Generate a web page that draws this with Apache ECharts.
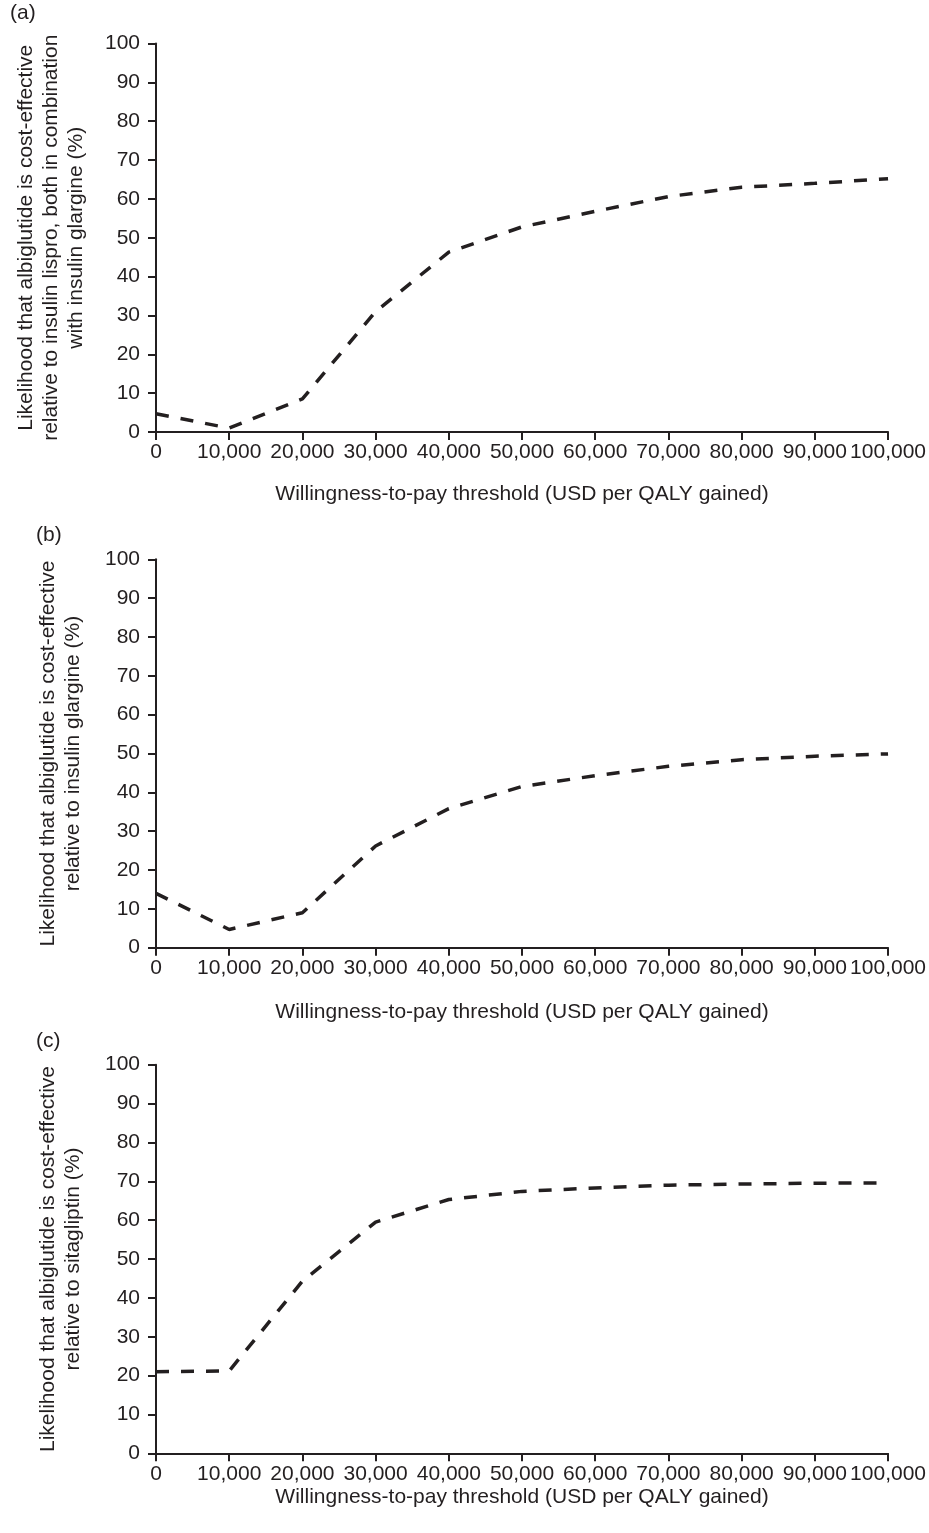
<!DOCTYPE html>
<html>
<head>
<meta charset="utf-8">
<script src="https://cdn.jsdelivr.net/npm/echarts@6/dist/echarts.min.js"></script>
<style>
html,body{margin:0;padding:0;background:#fff;}
#chart{width:929px;height:1533px;}
</style>
</head>
<body>
<div id="chart"></div>
<script>
// Willingness-to-pay thresholds (USD per QALY gained)
var thresholds = [0, 10000, 20000, 30000, 40000, 50000, 60000, 70000, 80000, 90000, 100000];
// Likelihood (%) that albiglutide is cost-effective
var seriesA = [4.7, 1.0, 8.5, 31.0, 46.3, 52.8, 56.8, 60.6, 63.0, 64.0, 65.2];
var seriesB = [14.0, 4.7, 9.0, 26.2, 35.8, 41.5, 44.3, 46.7, 48.4, 49.3, 49.9];
var seriesC = [21.0, 21.2, 44.3, 59.5, 65.3, 67.4, 68.3, 69.0, 69.3, 69.5, 69.6];
var panelLabels = ['(a)', '(b)', '(c)'];
var yNames = [
  'Likelihood that albiglutide is cost-effective\nrelative to insulin lispro, both in combination\nwith insulin glargine (%)',
  'Likelihood that albiglutide is cost-effective\nrelative to insulin glargine (%)',
  'Likelihood that albiglutide is cost-effective\nrelative to sitagliptin (%)'
];
var xName = 'Willingness-to-pay threshold (USD per QALY gained)';
var yTicks = [0, 10, 20, 30, 40, 50, 60, 70, 80, 90, 100];

var ink = '#231f20';
var font = 'Liberation Sans, Arial, Helvetica, sans-serif';
var grids = [
  {left: 156, top: 43.5, width: 733, height: 388.5},
  {left: 156, top: 559.3, width: 733, height: 388.4},
  {left: 156, top: 1064.7, width: 733, height: 388.6}
];
var xNameGaps = [52, 54, 33];
var yNameGaps = [67, 70, 70];
var allData = [seriesA, seriesB, seriesC];

var xAxes = [], yAxes = [], series = [], graphics = [];
for (var i = 0; i < 3; i++) {
  xAxes.push({
    type: 'value', gridIndex: i, min: 0, max: 100000, interval: 10000,
    name: xName, nameLocation: 'middle', nameGap: xNameGaps[i],
    nameTextStyle: {color: ink, fontSize: 21, fontFamily: font},
    axisLine: {show: true, lineStyle: {color: ink, width: 2}},
    axisTick: {show: true, length: 8, lineStyle: {color: ink, width: 2}},
    axisLabel: {color: ink, fontSize: 21, fontFamily: font, margin: 10,
      showMinLabel: true, showMaxLabel: true,
      formatter: function (v) { return v === 0 ? '0' : v.toLocaleString('en-US'); }},
    splitLine: {show: false}
  });
  yAxes.push({
    type: 'value', gridIndex: i, min: 0, max: 100, interval: 10,
    name: yNames[i], nameLocation: 'middle', nameGap: yNameGaps[i], nameRotate: 90,
    nameTextStyle: {color: ink, fontSize: 21, fontFamily: font, lineHeight: 25, align: 'center'},
    axisLine: {show: true, lineStyle: {color: ink, width: 2}},
    axisTick: {show: true, length: 8, lineStyle: {color: ink, width: 2}},
    axisLabel: {color: ink, fontSize: 21, fontFamily: font, margin: 16},
    splitLine: {show: false}
  });
  series.push({
    type: 'line', xAxisIndex: i, yAxisIndex: i,
    data: thresholds.map(function (t, k) { return [t, allData[i][k]]; }),
    showSymbol: false, symbol: 'none', smooth: false,
    lineStyle: {color: ink, width: 3.5, type: [13, 12], cap: 'butt'},
    animation: false
  });
}
var labelPos = [[10, 3], [36, 525], [36, 1031]];
for (var j = 0; j < 3; j++) {
  graphics.push({
    type: 'text', left: labelPos[j][0], top: labelPos[j][1],
    style: {text: panelLabels[j], fill: ink, fontSize: 21, fontFamily: font}
  });
}

var chart = echarts.init(document.getElementById('chart'), null, {renderer: 'canvas'});
chart.setOption({
  backgroundColor: '#ffffff',
  animation: false,
  grid: grids,
  xAxis: xAxes,
  yAxis: yAxes,
  series: series,
  graphic: graphics
});
</script>
</body>
</html>
